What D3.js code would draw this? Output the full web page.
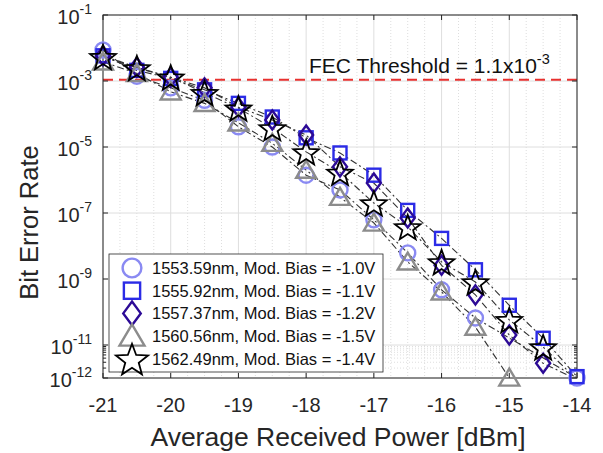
<!DOCTYPE html>
<html>
<head>
<meta charset="utf-8">
<script src="https://cdn.jsdelivr.net/npm/d3@7"></script>
<style>
  html, body { margin: 0; padding: 0; background: #fff; }
  svg { display: block; font-family: "Liberation Sans", Arial, sans-serif; }
</style>
</head>
<body>
<svg id="chart" width="603" height="453"></svg>
<script>
// Received optical power sweep (dBm)
const powers = [-21, -20.5, -20, -19.5, -19, -18.5, -18, -17.5, -17, -16.5, -16, -15.5, -15, -14.5, -14];

// Measured BER per channel (null = no measurement)
const ber1553 = [8.7e-3, 1.4e-3, 6.2e-4, 2.6e-4, 4.1e-5, 1.0e-5, 1.4e-6, 5.0e-7, 6.2e-8, 6.2e-9, 4.7e-10, 6.6e-11, null, null, 1e-12];
const ber1555 = [5.8e-3, 2.1e-3, 1.2e-3, 5.4e-4, 2.1e-4, 8.1e-5, 1.9e-5, 6.6e-6, 1.4e-6, 1.2e-7, 1.7e-8, 1.9e-9, 1.6e-10, 1.6e-11, 1.1e-12];
const ber1557 = [5.8e-3, 2.6e-3, 1.3e-3, 6.2e-4, 1.6e-4, 6.6e-5, 2.3e-5, 2.5e-6, 8.1e-7, 7.1e-8, 2.6e-9, 3.3e-10, 2.0e-11, 2.8e-12, 9e-13];
const ber1560 = [3.8e-3, 1.7e-3, 4.7e-4, 2.1e-4, 5.4e-5, 1.3e-5, 2.0e-6, 3.0e-7, 5.0e-8, 3.3e-9, 4.1e-10, 3.5e-11, 1e-12, null, null];
const ber1562 = [5.4e-3, 2.5e-3, 1.3e-3, 4.4e-4, 1.5e-4, 3.8e-5, 7.1e-6, 1.7e-6, 2.0e-7, 3.8e-8, 3.3e-9, 8.1e-10, 5.8e-11, 8.7e-12, 9e-13];

const seriesLabels = [
  "1553.59nm, Mod. Bias = -1.0V",
  "1555.92nm, Mod. Bias = -1.1V",
  "1557.37nm, Mod. Bias = -1.2V",
  "1560.56nm, Mod. Bias = -1.5V",
  "1562.49nm, Mod. Bias = -1.4V"
];

const xTicks = [-21, -20, -19, -18, -17, -16, -15, -14];
const yTickExps = [-1, -3, -5, -7, -9, -11, -12];
const fecThreshold = 1.1e-3;

const svg = d3.select("#chart");
const m = { left: 103, right: 577, top: 15, bottom: 378 };

const x = d3.scaleLinear().domain([-21, -14]).range([m.left, m.right]);
const y = d3.scaleLog().domain([1e-12, 1e-1]).range([m.bottom, m.top]);

const axisColor = "#262626";
const gridColor = "#dedede";

svg.append("defs").append("clipPath").attr("id", "plotclip")
  .append("rect").attr("x", m.left).attr("y", m.top)
  .attr("width", m.right - m.left).attr("height", m.bottom - m.top);

// ----- grid -----
const grid = svg.append("g");
// vertical minor grid (quarter units)
const xMinor = d3.range(-21, -14.001, 0.25).filter(v => Math.abs(v - Math.round(v)) > 1e-6);
grid.selectAll(".vmin").data(xMinor).join("line")
  .attr("x1", d => x(d)).attr("x2", d => x(d))
  .attr("y1", m.top).attr("y2", m.bottom)
  .attr("stroke", gridColor).attr("stroke-width", 1).attr("stroke-dasharray", "1,2");
// horizontal minor grid in the lowest decade
const yMinor = d3.range(2, 10).map(k => k * 1e-12);
grid.selectAll(".hmin").data(yMinor).join("line")
  .attr("x1", m.left).attr("x2", m.right)
  .attr("y1", d => y(d)).attr("y2", d => y(d))
  .attr("stroke", gridColor).attr("stroke-width", 1).attr("stroke-dasharray", "1,2");
// major grid
grid.selectAll(".vmaj").data(xTicks).join("line")
  .attr("x1", d => x(d)).attr("x2", d => x(d))
  .attr("y1", m.top).attr("y2", m.bottom)
  .attr("stroke", gridColor).attr("stroke-width", 1);
grid.selectAll(".hmaj").data(yTickExps).join("line")
  .attr("x1", m.left).attr("x2", m.right)
  .attr("y1", d => y(Math.pow(10, d))).attr("y2", d => y(Math.pow(10, d)))
  .attr("stroke", gridColor).attr("stroke-width", 1);

// ----- FEC threshold -----
svg.append("line")
  .attr("x1", m.left).attr("x2", m.right)
  .attr("y1", y(fecThreshold)).attr("y2", y(fecThreshold))
  .attr("stroke", "#e8312f").attr("stroke-width", 2).attr("stroke-dasharray", "10,6");
const fecText = svg.append("text").attr("x", 309).attr("y", y(fecThreshold) - 7)
  .attr("font-size", 21).attr("fill", "#111");
fecText.append("tspan").text("FEC Threshold = 1.1x10");
fecText.append("tspan").attr("dy", -9).attr("font-size", 14.5).text("-3");

// ----- axes -----
const axes = svg.append("g");
axes.append("rect").attr("x", m.left).attr("y", m.top)
  .attr("width", m.right - m.left).attr("height", m.bottom - m.top)
  .attr("fill", "none").attr("stroke", axisColor).attr("stroke-width", 1);

const tickLen = 5;
xTicks.forEach(t => {
  axes.append("line").attr("x1", x(t)).attr("x2", x(t)).attr("y1", m.bottom).attr("y2", m.bottom - tickLen)
    .attr("stroke", axisColor);
  axes.append("line").attr("x1", x(t)).attr("x2", x(t)).attr("y1", m.top).attr("y2", m.top + tickLen)
    .attr("stroke", axisColor);
  axes.append("text").attr("x", x(t)).attr("y", m.bottom + 34)
    .attr("text-anchor", "middle").attr("font-size", 20).attr("fill", "#262626").text(t);
});
yTickExps.forEach(e => {
  const yy = y(Math.pow(10, e));
  axes.append("line").attr("x1", m.left).attr("x2", m.left + tickLen).attr("y1", yy).attr("y2", yy)
    .attr("stroke", axisColor);
  axes.append("line").attr("x1", m.right).attr("x2", m.right - tickLen).attr("y1", yy).attr("y2", yy)
    .attr("stroke", axisColor);
  const t = axes.append("text").attr("x", m.left - 11).attr("y", yy + 9)
    .attr("text-anchor", "end").attr("font-size", 20).attr("fill", "#262626");
  t.append("tspan").text("10");
  t.append("tspan").attr("dy", -10).attr("font-size", 14).text(String(e));
});
// minor y ticks in the lowest decade
yMinor.forEach(v => {
  axes.append("line").attr("x1", m.left).attr("x2", m.left + 3).attr("y1", y(v)).attr("y2", y(v)).attr("stroke", axisColor);
  axes.append("line").attr("x1", m.right).attr("x2", m.right - 3).attr("y1", y(v)).attr("y2", y(v)).attr("stroke", axisColor);
});

svg.append("text").attr("x", (m.left + m.right) / 2 - 2).attr("y", 446)
  .attr("text-anchor", "middle").attr("font-size", 26.5).attr("fill", "#262626")
  .text("Average Received Power [dBm]");
svg.append("text").attr("transform", `translate(38,${(m.top + m.bottom) / 2 + 26}) rotate(-90)`)
  .attr("text-anchor", "middle").attr("font-size", 25.5).attr("fill", "#262626")
  .text("Bit Error Rate");

// ----- series -----
const series = [
  { vals: ber1553, color: "#8a8af2", shape: "circle" },
  { vals: ber1555, color: "#2b2be6", shape: "square" },
  { vals: ber1557, color: "#2c0a96", shape: "diamond" },
  { vals: ber1560, color: "#8c8c8c", shape: "triangle" },
  { vals: ber1562, color: "#000000", shape: "star" }
];

function drawMarker(g, shape, cx, cy, color, k) {
  const sw = 2.4;
  if (shape === "circle") {
    g.append("circle").attr("cx", cx).attr("cy", cy).attr("r", 7.5 * k)
      .attr("fill", "none").attr("stroke", color).attr("stroke-width", sw);
  } else if (shape === "square") {
    const h = 6.5 * k;
    g.append("rect").attr("x", cx - h).attr("y", cy - h).attr("width", 2 * h).attr("height", 2 * h)
      .attr("fill", "none").attr("stroke", color).attr("stroke-width", sw);
  } else if (shape === "diamond") {
    const w = 7 * k, h = 9.5 * k;
    g.append("path").attr("d", `M${cx},${cy - h}L${cx + w},${cy}L${cx},${cy + h}L${cx - w},${cy}Z`)
      .attr("fill", "none").attr("stroke", color).attr("stroke-width", sw);
  } else if (shape === "triangle") {
    const w = 10 * k, h = 17 * k;
    g.append("path").attr("d", `M${cx},${cy - h * 0.55}L${cx + w},${cy + h * 0.45}L${cx - w},${cy + h * 0.45}Z`)
      .attr("fill", "none").attr("stroke", color).attr("stroke-width", sw);
  } else if (shape === "star") {
    const R = 13.5 * k, r = R * 0.42;
    const pts = d3.range(10).map(i => {
      const a = -Math.PI / 2 + i * Math.PI / 5;
      const rr = i % 2 === 0 ? R : r;
      return [cx + rr * Math.cos(a), cy + rr * Math.sin(a) + 1.5 * k];
    });
    g.append("path").attr("d", "M" + pts.map(p => p.join(",")).join("L") + "Z")
      .attr("fill", "none").attr("stroke", color).attr("stroke-width", 1.8);
  }
}

const lineGen = d3.line()
  .x(d => x(d.p)).y(d => y(d.v));

// dash-dot connecting lines, clipped to the axes box
const plot = svg.append("g").attr("clip-path", "url(#plotclip)");
series.forEach(s => {
  const pts = powers.map((p, i) => ({ p, v: s.vals[i] })).filter(d => d.v !== null);
  plot.append("path").datum(pts).attr("d", lineGen)
    .attr("fill", "none").attr("stroke", "#333").attr("stroke-width", 1.1)
    .attr("stroke-dasharray", "7,3,2,3");
});
// markers (points below the axis floor are not drawn)
const marks = svg.append("g");
series.forEach(s => {
  powers.forEach((p, i) => {
    const v = s.vals[i];
    if (v === null || v < y.domain()[0]) return;
    drawMarker(marks, s.shape, x(p), y(v), s.color, 1);
  });
});

// ----- legend -----
const lg = svg.append("g");
lg.append("rect").attr("x", 109).attr("y", 254).attr("width", 274).attr("height", 118)
  .attr("fill", "#fff").attr("stroke", axisColor).attr("stroke-width", 0.8);
series.forEach((s, i) => {
  const cy = 268 + i * 22.7;
  drawMarker(lg, s.shape, 132, cy, s.color, 1.25);
  lg.append("text").attr("x", 152).attr("y", cy + 6).attr("font-size", 16.5).attr("fill", "#111")
    .text(seriesLabels[i]);
});
</script>
</body>
</html>
